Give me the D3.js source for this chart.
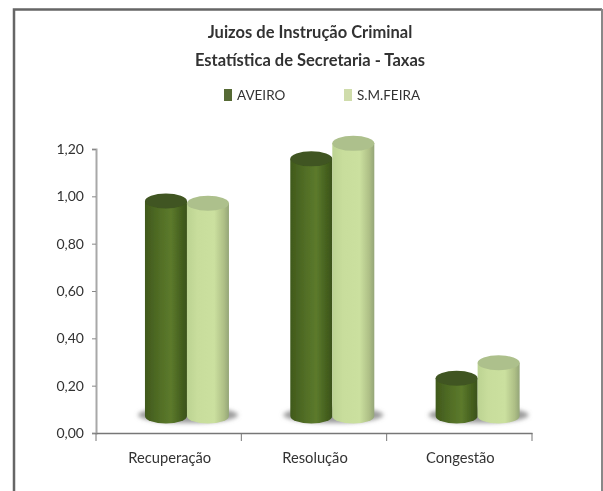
<!DOCTYPE html>
<html><head><meta charset="utf-8">
<script src="https://cdn.jsdelivr.net/npm/d3@7"></script>
<style>html,body{margin:0;padding:0;background:#fff}svg{display:block}text{font-family:Lato,"Open Sans",sans-serif;fill:#333}</style>
</head><body>
<script>
const titleLines=["Juizos de Instrução Criminal","Estatística de Secretaria - Taxas"];
const categories=["Recuperação","Resolução","Congestão"];
const seriesNames=["AVEIRO","S.M.FEIRA"];
const aveiro=[0.97,1.16,0.17];
const feira=[0.96,1.23,0.24];
const yTicks=[0,0.2,0.4,0.6,0.8,1.0,1.2];
const W=603,H=491;
const svg=d3.select("body").append("svg").attr("width",W).attr("height",H);
const defs=svg.append("defs");
defs.append("filter").attr("id","soft").attr("x","-5%").attr("y","-20%").attr("width","110%").attr("height","140%")
 .append("feGaussianBlur").attr("stdDeviation",0.55);
defs.append("filter").attr("id","shadow").attr("x","-30%").attr("y","-60%").attr("width","160%").attr("height","220%")
 .append("feGaussianBlur").attr("stdDeviation",2.2);
function grad(id,stops){const g=defs.append("linearGradient").attr("id",id);
 stops.forEach(s=>g.append("stop").attr("offset",s[0]).attr("stop-color",s[1]));}
grad("g0",[[0,"#40591c"],[0.3,"#4f6b24"],[0.62,"#5c7a2c"],[0.85,"#46611f"],[1,"#3b5219"]]);
grad("g1",[[0,"#bcd392"],[0.25,"#c8dd9c"],[0.65,"#cbe09f"],[0.88,"#aebf86"],[1,"#94a578"]]);
const topCol=["#3f5520","#adc08c"];

// frame
svg.append("path").attr("d",`M14,${H}V9.5H602`).attr("fill","none").attr("stroke","#666").attr("stroke-width",2.5);
svg.append("path").attr("d",`M602,9V${H}`).attr("fill","none").attr("stroke","#888").attr("stroke-width",2);

const x=d3.scaleBand().domain(categories).range([96,532]);
const y=d3.scaleLinear().domain([0,1.2]).range([433,149]);
const yBar=d3.scaleLinear().domain([0,1.2]).range([416,150]);
const xSer=d3.scaleBand().domain(seriesNames).range([0,84]);
const depth=18.3, ry=7.5;

const plot=svg.append("g").attr("filter","url(#soft)");
// shadows
categories.forEach((c,i)=>{
 plot.append("ellipse").attr("cx",x(c)+x.bandwidth()/2+depth+1).attr("cy",415)
  .attr("rx",50).attr("ry",8).attr("fill","#9c9c9c").attr("filter","url(#shadow)");
});
// bars
[aveiro,feira].forEach((vals,s)=>{
 const name=seriesNames[s];
 const g=plot.append("g");
 categories.forEach((c,i)=>{
  const left=x(c)+x.bandwidth()/2+depth-42+xSer(name);
  const w=xSer.bandwidth(), rx=w/2, yt=yBar(vals[i]), yb=yBar(0);
  g.append("path").attr("d",`M${left},${yt}V${yb}A${rx},${ry} 0 0 0 ${left+w},${yb}V${yt}Z`).attr("fill",`url(#g${s})`);
  g.append("ellipse").attr("cx",left+rx).attr("cy",yt).attr("rx",rx).attr("ry",ry).attr("fill",topCol[s]);
 });
});

// axes
const axes=svg.append("g").attr("filter","url(#soft)");
const yAxis=d3.axisLeft(y).tickValues(yTicks).tickSize(4).tickPadding(8)
  .tickFormat(d=>d3.format(".2f")(d).replace(".",","));
const gy=axes.append("g").attr("transform","translate(96,0)").call(yAxis);
const xAxis=d3.axisBottom(x).tickSize(0).tickPadding(20);
const gx=axes.append("g").attr("transform","translate(0,433)").call(xAxis);
const xTickScale=d3.scalePoint().domain(d3.range(categories.length+1)).range([96,532]);
axes.selectAll("line.tk").data(xTickScale.domain()).join("line").attr("class","tk")
 .attr("x1",d=>xTickScale(d)).attr("x2",d=>xTickScale(d)).attr("y1",433).attr("y2",441).attr("stroke","#777");
gy.select("path.domain").attr("stroke","#a8a8a8").attr("stroke-width",2);
gx.select("path.domain").attr("stroke","#777").attr("stroke-width",1.5);
gy.selectAll(".tick line").attr("stroke","#888");
gy.selectAll("text").style("font-family","Lato").style("font-size","14px").attr("fill","#444");
gx.selectAll("text").style("font-family","Lato").style("font-size","14.7px").attr("fill","#444");
gx.selectAll(".tick text").attr("dx",1);

// title
const head=svg.append("g").attr("filter","url(#soft)");
head.selectAll("text.t").data(titleLines).join("text").attr("class","t")
 .attr("x",310).attr("y",(d,i)=>38+i*28).attr("text-anchor","middle")
 .style("font-size","16.5px").style("font-weight",700).text(d=>d);
// legend
const legX=d3.scaleOrdinal().domain(seriesNames).range([224,344]);
const legCol=["#566a34","#cfdcab"];
seriesNames.forEach((n,i)=>{
 head.append("rect").attr("x",legX(n)).attr("y",89).attr("width",8).attr("height",12).attr("fill",legCol[i]);
 head.append("text").attr("x",legX(n)+13).attr("y",100).style("font-size","13.5px").attr("fill","#444").text(n);
});
</script>
</body></html>
